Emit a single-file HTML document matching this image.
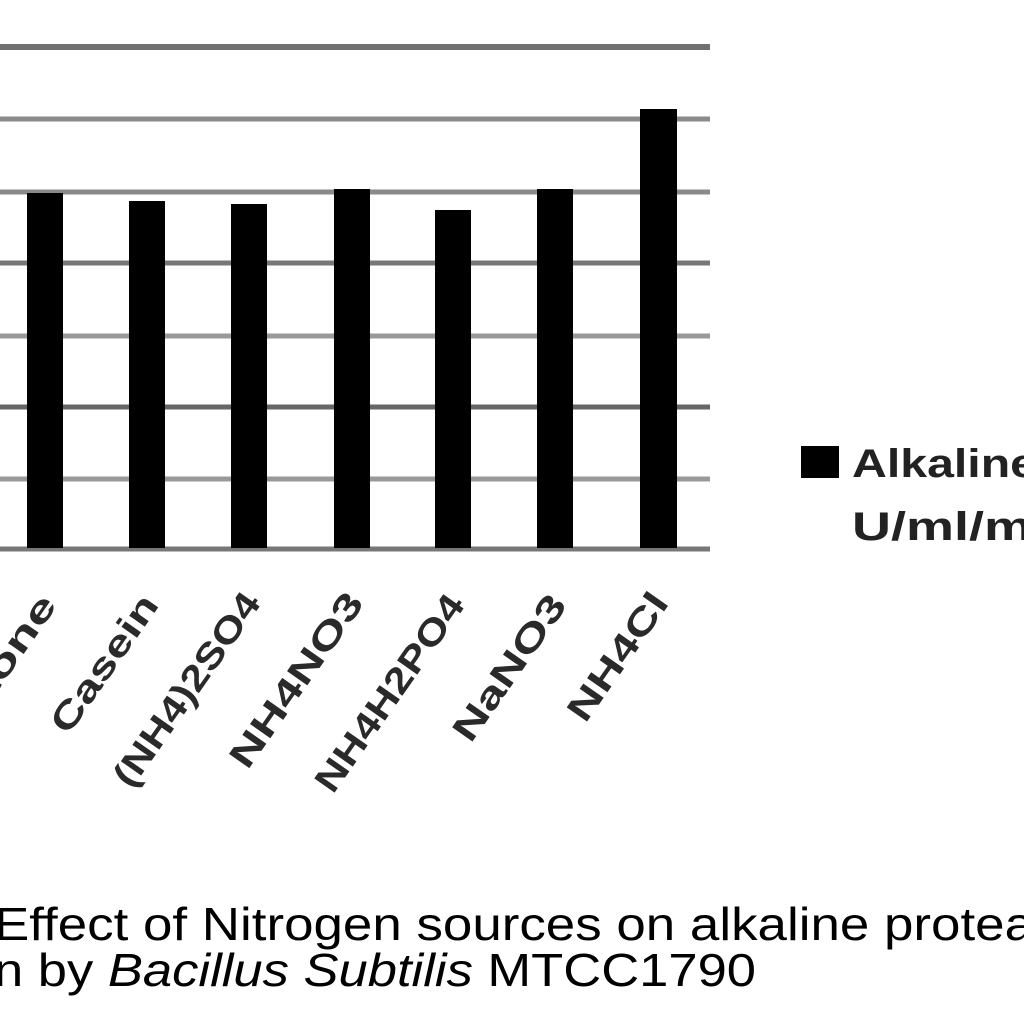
<!DOCTYPE html>
<html><head><style>body{margin:0;background:#fff}svg{display:block}</style></head>
<body>
<svg width="1024" height="1024" xmlns="http://www.w3.org/2000/svg">
<rect width="1024" height="1024" fill="#fff"/>
<g stroke="#8a8a8a" stroke-width="5">
<line x1="0" y1="47" x2="710" y2="47" stroke="#707070" stroke-width="6"/>
<line x1="0" y1="119" x2="710" y2="119"/>
<line x1="0" y1="192" x2="710" y2="192"/>
<line x1="0" y1="263" x2="710" y2="263" stroke="#777"/>
<line x1="0" y1="336" x2="710" y2="336" stroke="#999"/>
<line x1="0" y1="407" x2="710" y2="407" stroke="#666"/>
<line x1="0" y1="479" x2="710" y2="479" stroke="#999"/>
<line x1="0" y1="549" x2="710" y2="549" stroke="#777"/>
</g>
<g fill="#000">
<rect x="27" y="193" width="36" height="355"/>
<rect x="129" y="201" width="36" height="347"/>
<rect x="231" y="204" width="36" height="344"/>
<rect x="334" y="189" width="36" height="359"/>
<rect x="435" y="210" width="36" height="338"/>
<rect x="537" y="189" width="36" height="359"/>
<rect x="640" y="109" width="37" height="439"/>
</g>
<g font-family="Liberation Sans, sans-serif" font-size="36" font-weight="bold" fill="#2a2a2a" text-anchor="end">
<text transform="translate(58,605) rotate(-55)" textLength="215" lengthAdjust="spacingAndGlyphs">Peptone</text>
<text transform="translate(160,605) rotate(-55)" textLength="160" lengthAdjust="spacingAndGlyphs">Casein</text>
<text transform="translate(262,603) rotate(-55)" textLength="228" lengthAdjust="spacingAndGlyphs">(NH4)2SO4</text>
<text transform="translate(365,603) rotate(-55)" textLength="205" lengthAdjust="spacingAndGlyphs">NH4NO3</text>
<text transform="translate(466,605) rotate(-55)" textLength="232" lengthAdjust="spacingAndGlyphs">NH4H2PO4</text>
<text transform="translate(568,605) rotate(-55)" textLength="170" lengthAdjust="spacingAndGlyphs">NaNO3</text>
<text transform="translate(670,603) rotate(-55)" textLength="148" lengthAdjust="spacingAndGlyphs">NH4Cl</text>
</g>
<rect x="801" y="446" width="38" height="32" fill="#000"/>
<g font-family="Liberation Sans, sans-serif" font-size="40" font-weight="bold" fill="#222">
<text x="852" y="477" textLength="185" lengthAdjust="spacingAndGlyphs">Alkaline</text>
<text x="852" y="540" textLength="180" lengthAdjust="spacingAndGlyphs">U/ml/m</text>
</g>
<g font-family="Liberation Sans, sans-serif" font-size="46" fill="#000">
<text x="-6" y="940" textLength="1040" lengthAdjust="spacingAndGlyphs">Effect of Nitrogen sources on alkaline protea</text>
<text x="-6" y="986" textLength="762" lengthAdjust="spacingAndGlyphs">n by <tspan font-style="italic">Bacillus Subtilis</tspan> MTCC1790</text>
</g>
</svg>
</body></html>
